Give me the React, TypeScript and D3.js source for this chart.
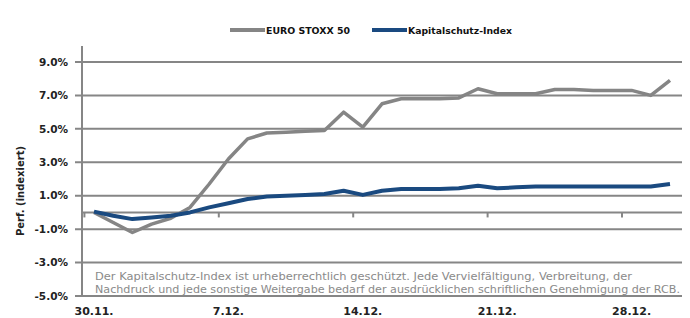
// @ts-nocheck
import { useRef, useEffect } from "react";
import * as d3 from "d3";

// daily values from 30.11. to 30.12., performance in %
const startDate = new Date(2009, 10, 30);
const euroStoxx = [
  0.0, -0.6, -1.2, -0.7, -0.35, 0.3, 1.7, 3.2, 4.4, 4.75, 4.8, 4.85, 4.9, 6.0,
  5.1, 6.5, 6.8, 6.8, 6.8, 6.85, 7.4, 7.1, 7.1, 7.1, 7.35, 7.35, 7.3, 7.3, 7.3,
  7.0, 7.9,
];
const kapitalschutz = [
  0.05, -0.2, -0.4, -0.3, -0.2, 0.0, 0.3, 0.55, 0.8, 0.95, 1.0, 1.05, 1.1, 1.3,
  1.05, 1.3, 1.4, 1.4, 1.4, 1.45, 1.6, 1.45, 1.5, 1.55, 1.55, 1.55, 1.55, 1.55,
  1.55, 1.55, 1.7,
];
const yTicks = [9, 7, 5, 3, 1, -1, -3, -5];
const xTickLabels = ["30.11.", "7.12.", "14.12.", "21.12.", "28.12."];
const seriesNames = ["EURO STOXX 50", "Kapitalschutz-Index"];
const yTitle = "Perf. (indexiert)";
const note = [
  "Der Kapitalschutz-Index ist urheberrechtlich geschützt. Jede Vervielfältigung, Verbreitung, der",
  "Nachdruck und jede sonstige Weitergabe bedarf der ausdrücklichen schriftlichen Genehmigung der RCB.",
];

const dayOf = (i) => d3.timeDay.offset(startDate, i);

const Chart = () => {
  const chartRef = useRef(null);

  useEffect(() => {
    const svg = d3.select(chartRef.current);
    svg.selectAll("*").remove();

    const width = 690;
    const height = 318;
    const font = "'DejaVu Sans', Verdana, sans-serif";

    const x = d3
      .scaleTime()
      .domain([startDate, dayOf(30)])
      .range([94, 670]);
    const y = d3.scaleLinear().domain([-5, 9]).range([296, 62]);

    svg.attr("width", width).attr("height", height);

    // gridlines + y tick marks
    svg
      .append("g")
      .selectAll("line")
      .data(yTicks)
      .join("line")
      .attr("x1", 75)
      .attr("x2", 682)
      .attr("y1", (d) => y(d))
      .attr("y2", (d) => y(d))
      .attr("stroke", "#868686")
      .attr("stroke-width", 2);

    // y axis line
    svg
      .append("line")
      .attr("x1", 82)
      .attr("x2", 82)
      .attr("y1", 46)
      .attr("y2", y(-5))
      .attr("stroke", "#868686")
      .attr("stroke-width", 2);

    // x axis at 0 with weekly ticks
    svg
      .append("line")
      .attr("x1", 82)
      .attr("x2", 682)
      .attr("y1", y(0))
      .attr("y2", y(0))
      .attr("stroke", "#868686")
      .attr("stroke-width", 2);

    const weekTicks = xTickLabels.map((_, i) =>
      d3.timeHour.offset(dayOf(i * 7), -12)
    );
    svg
      .append("g")
      .selectAll("line")
      .data(weekTicks)
      .join("line")
      .attr("x1", (d) => x(d))
      .attr("x2", (d) => x(d))
      .attr("y1", y(0))
      .attr("y2", y(0) + 5)
      .attr("stroke", "#868686")
      .attr("stroke-width", 2);

    // y labels
    svg
      .append("g")
      .selectAll("text")
      .data(yTicks)
      .join("text")
      .attr("x", 68)
      .attr("y", (d) => y(d))
      .attr("dy", "0.35em")
      .attr("text-anchor", "end")
      .attr("font-family", font)
      .attr("font-weight", "bold")
      .attr("font-size", 10.5)
      .attr("fill", "#222")
      .text((d) => d.toFixed(1) + "%");

    // x labels
    svg
      .append("g")
      .selectAll("text")
      .data(xTickLabels)
      .join("text")
      .attr("x", (d, i) => x(dayOf(i * 7)))
      .attr("y", 315)
      .attr("text-anchor", "middle")
      .attr("font-family", font)
      .attr("font-weight", "bold")
      .attr("font-size", 11)
      .attr("fill", "#222")
      .text((d) => d);

    // y title
    svg
      .append("text")
      .attr("transform", "translate(24,191) rotate(-90)")
      .attr("text-anchor", "middle")
      .attr("font-family", font)
      .attr("font-weight", "bold")
      .attr("font-size", 10)
      .attr("fill", "#222")
      .text(yTitle);

    // note text
    svg
      .append("g")
      .selectAll("text")
      .data(note)
      .join("text")
      .attr("x", 95)
      .attr("y", (d, i) => 280 + i * 13)
      .attr("textLength", (d, i) => (i === 0 ? 537 : 585))
      .attr("lengthAdjust", "spacingAndGlyphs")
      .attr("font-family", font)
      .attr("font-size", 10)
      .attr("fill", "#8a8a8a")
      .text((d) => d);

    const line = d3
      .line()
      .x((d, i) => x(dayOf(i)))
      .y((d) => y(d));

    const colors = ["#858585", "#1a4a80"];
    const widths = [3.5, 4];

    [euroStoxx, kapitalschutz].forEach((s, k) => {
      svg
        .append("path")
        .datum(s)
        .attr("fill", "none")
        .attr("stroke", colors[k])
        .attr("stroke-width", widths[k])
        .attr("stroke-linejoin", "round")
        .attr("d", line);
    });

    // legend
    const legendX = [230, 372];
    const legendLen = [84, 104];
    seriesNames.forEach((name, k) => {
      svg
        .append("line")
        .attr("x1", legendX[k])
        .attr("x2", legendX[k] + 35)
        .attr("y1", 30)
        .attr("y2", 30)
        .attr("stroke", colors[k])
        .attr("stroke-width", 4);
      svg
        .append("text")
        .attr("x", legendX[k] + 36)
        .attr("y", 33.5)
        .attr("textLength", legendLen[k])
        .attr("lengthAdjust", "spacingAndGlyphs")
        .attr("font-family", font)
        .attr("font-weight", "bold")
        .attr("font-size", 9)
        .attr("fill", "#111")
        .text(name);
    });
  }, []);

  return <svg ref={chartRef} style={{ display: "block" }}></svg>;
};

export default function App() {
  useEffect(() => {
    document.body.style.margin = "0";
  }, []);
  return <Chart />;
}
